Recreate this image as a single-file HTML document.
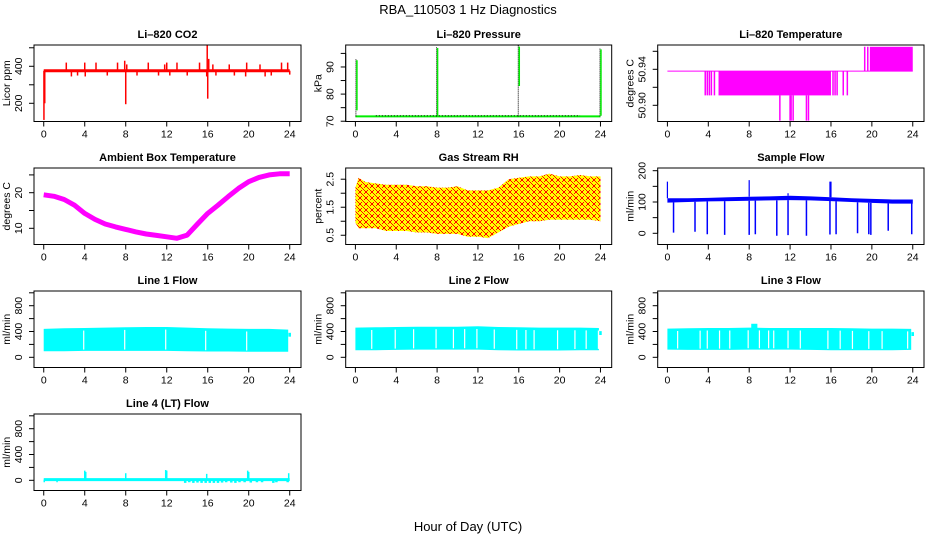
<!DOCTYPE html>
<html><head><meta charset="utf-8"><style>
html,body{margin:0;padding:0;background:#fff;}
svg{display:block;font-family:"Liberation Sans",Helvetica,Arial,sans-serif;}
</style></head><body>
<svg id="chart" width="936" height="540" viewBox="0 0 936 540" xmlns="http://www.w3.org/2000/svg">
<defs>
<pattern id="rhpat" width="6" height="6" patternUnits="userSpaceOnUse">
<rect width="6" height="6" fill="#ffff00"/>
<rect x="0" y="0" width="1" height="1" fill="#ff0000"/>
<rect x="1" y="1" width="1" height="1" fill="#ff0000"/>
<rect x="2" y="2" width="1" height="1" fill="#ff0000"/>
<rect x="3" y="3" width="1" height="1" fill="#ff0000"/>
<rect x="4" y="4" width="1" height="1" fill="#ff0000"/>
<rect x="5" y="5" width="1" height="1" fill="#ff0000"/>
<rect x="5" y="0" width="1" height="1" fill="#ff0000"/>
<rect x="4" y="1" width="1" height="1" fill="#ff0000"/>
<rect x="1" y="4" width="1" height="1" fill="#ff0000"/>
<rect x="0" y="5" width="1" height="1" fill="#ff0000"/>
</pattern>
</defs>
<text x="468" y="14" font-size="13" text-anchor="middle">RBA_110503  1 Hz Diagnostics</text>
<text x="468" y="531" font-size="13" text-anchor="middle">Hour of Day (UTC)</text>
</svg>
<script>
// ---- data arrays ----
const xTicks = [0,4,8,12,16,20,24];
// CO2
const co2Base = 376;
const co2SpikeHours = [0.02,0.1,2.2,2.7,3.3,4.0,4.05,5.1,6.2,7.2,7.9,8.0,8.1,9.1,10.2,11.2,11.8,12.0,12.3,13.0,14.0,15.2,15.9,15.95,16.0,16.1,16.5,16.8,18.1,18.6,19.7,19.8,21.1,21.6,22.2,23.2,23.8,24.0];
const co2SpikeVals  = [110,200,420,345,350,420,345,420,350,420,430,195,410,350,420,350,410,420,350,420,350,420,345,515,225,440,410,350,410,350,345,420,410,345,350,420,420,355];
// Pressure
const presBase = 71.8;
const presSpikeHours = [0.05,7.95,15.95,23.95];
const presSpikeMax = [93,97.5,98,97];
const presSpikeGreenMin = [74,72,83,72];
// Li-820 temperature (quantized levels)
const ltBase = 50.938;
const ltBlockStart = [5.0,19.8];
const ltBlockEnd = [16.0,24.0];
const ltBlockLow = [50.911,50.938];
const ltBlockHigh = [50.938,50.965];
const ltSpikeHours = [3.7,3.9,4.1,4.3,4.6,16.2,16.4,16.6,17.2,17.6,19.3,19.6,11.0,12.0,12.1,12.3,13.6,13.8];
const ltSpikeVals  = [50.911,50.911,50.911,50.911,50.911,50.911,50.911,50.911,50.911,50.911,50.965,50.965,50.883,50.883,50.883,50.883,50.883,50.883];
// Ambient box temperature, hourly
const ambHours = [0,1,2,3,4,5,6,7,8,9,10,11,12,13,14,15,16,17,18,19,20,21,22,23,24];
const ambVals  = [19.4,19.0,18.1,16.5,14.2,12.5,11.2,10.4,9.7,9.0,8.4,8.0,7.6,7.2,8.1,11.2,14.2,16.5,18.9,21.2,23.1,24.3,25.0,25.3,25.3];
// Gas stream RH envelope
const rhHours = [0,0.3,1,2,3,4,5,6,7,8,9,10,11,12,13,14,15,16,17,18,19,20,21,22,23,24];
const rhUpper = [2.2,2.55,2.4,2.35,2.3,2.3,2.3,2.25,2.25,2.2,2.2,2.25,2.1,2.1,2.1,2.2,2.5,2.55,2.6,2.6,2.7,2.6,2.6,2.65,2.6,2.6];
const rhLower = [0.95,0.75,0.75,0.75,0.65,0.65,0.65,0.6,0.6,0.55,0.55,0.55,0.45,0.45,0.4,0.6,0.8,0.9,1.0,1.0,1.05,1.05,1.05,1.05,1.05,1.0];
// Sample flow
const sfHours = [0,2,4,6,8,10,12,14,16,18,20,22,24];
const sfUpper = [112,112,113,115,117,118,120,118,115,112,110,108,108];
const sfLower = [98,100,102,103,104,105,106,105,103,100,97,95,95];
const sfDropHours = [0.6,2.7,3.9,5.6,8.0,8.6,10.7,11.8,13.6,15.9,16.5,18.6,19.7,19.9,21.6,23.9];
const sfDropVals  = [2,5,-3,-5,-5,-3,-8,-6,-8,-4,-3,0,-3,-5,8,-3];
const sfSpikeHours = [0.0,8.0,11.8,15.9,16.0];
const sfSpikeVals  = [165,170,128,165,165];
// Line flows
const flowHours = [0,2,4,6,8,10,12,14,16,18,20,22,24];
const l1Upper = [440,450,455,460,465,470,470,460,450,445,440,440,430];
const l1Lower = [95,95,100,100,100,100,100,95,90,90,85,85,85];
const l1Gaps = [3.9,7.9,11.9,15.8,19.8];
const l2Upper = [460,465,470,475,475,475,480,470,465,460,460,460,455];
const l2Lower = [110,110,115,120,120,120,120,110,105,105,105,110,110];
const l2Gaps = [1.6,3.9,5.7,7.9,9.6,10.7,11.9,13.6,15.8,16.7,17.5,19.8,21.5,22.6,23.8];
const l3Upper = [445,450,455,455,460,455,455,455,455,450,445,445,440];
const l3Lower = [120,115,115,115,120,120,120,115,110,110,110,110,115];
const l3Gaps = [1.0,3.2,3.9,5.1,6.1,7.9,9.0,9.9,10.4,11.8,13.0,15.7,16.9,18.1,19.7,21.0,23.5];
const l3BumpStart = 8.2, l3BumpEnd = 8.8, l3BumpVal = 520;
// Line 4
const l4Base = 10;
const l4SpikeHours = [0.05,1.3,4.0,4.1,8.0,11.9,12.0,15.9,19.9,20.0,23.9];
const l4SpikeVals  = [-30,-30,150,130,110,160,150,100,150,130,110];
const l4DipHours = [13.8,14.2,14.6,15.0,15.4,15.8,16.2,16.6,17.0,17.4,17.8,18.3,18.7,19.1,19.6,20.2,20.8,21.3,22.4,22.7,23.8];
const l4DipVals  = [-40,-30,-40,-35,-40,-40,-40,-40,-40,-35,-30,-35,-40,-30,-30,-35,-30,-30,-40,-30,-30];

// ---- layout ----
const colL = [34,345.7,657.7], colR = [301,611.7,924];
const rowT = [45,168,291,414], PH = 76.5;
const XD0 = -0.95, XD1 = 25.1;
const svg = document.getElementById('chart');
const NS = 'http://www.w3.org/2000/svg';

function mk(tag, attrs, name, parent){
  const el = document.createElementNS(NS, tag);
  for (const k in attrs) el.setAttribute(k, attrs[k]);
  
  
  (parent || svg).appendChild(el);
  return el;
}

function panel(c, r, y0, y1, yt, ylabels, title, ylab, name){
  const L = colL[c], R = colR[c], T = rowT[r], B = T + PH;
  const g = mk('g', {}, name + '-panel');
  const xs = h => L + (h - XD0) / (XD1 - XD0) * (R - L);
  const ys = v => B - (v - y0) / (y1 - y0) * (B - T);
  const clip = document.createElementNS(NS, 'clipPath');
  clip.setAttribute('id', 'clip-' + name);
  const cr = document.createElementNS(NS, 'rect');
  cr.setAttribute('x', L); cr.setAttribute('y', T); cr.setAttribute('width', R - L); cr.setAttribute('height', B - T);
  clip.appendChild(cr); svg.appendChild(clip);
  const plot = mk('g', {'clip-path': 'url(#clip-' + name + ')'}, name + '-plot-area', g);
  mk('text', {x: (L + R) / 2, y: T - 7, 'font-size': 11, 'font-weight': 'bold', 'text-anchor': 'middle'}, name + '-title', g).textContent = title;
  mk('line', {x1: xs(xTicks[0]), x2: xs(xTicks[xTicks.length - 1]), y1: B, y2: B, stroke: '#000'}, name + '-x-axis-line', g);
  for (const t of xTicks){
    mk('line', {x1: xs(t), x2: xs(t), y1: B, y2: B + 5, stroke: '#000'}, name + '-x-tick', g);
    mk('text', {x: xs(t), y: B + 16, 'font-size': 10.5, 'text-anchor': 'middle'}, name + '-x-tick-label', g).textContent = t;
  }
  mk('line', {x1: L, x2: L, y1: ys(yt[0]), y2: ys(yt[yt.length - 1]), stroke: '#000'}, name + '-y-axis-line', g);
  for (const t of yt){
    mk('line', {x1: L - 5, x2: L, y1: ys(t), y2: ys(t), stroke: '#000'}, name + '-y-tick', g);
  }
  for (const t of ylabels){
    const lx = L - 12, ly = ys(t);
    mk('text', {x: lx, y: ly, 'font-size': 10.5, 'text-anchor': 'middle', transform: 'rotate(-90 ' + lx + ' ' + ly + ')'}, name + '-y-tick-label', g).textContent = t;
  }
  const tx = L - 24, ty = (T + B) / 2;
  mk('text', {x: tx, y: ty, 'font-size': 10.5, 'text-anchor': 'middle', transform: 'rotate(-90 ' + tx + ' ' + ty + ')'}, name + '-y-axis-title', g).textContent = ylab;
  mk('rect', {x: L, y: T, width: R - L, height: B - T, fill: 'none', stroke: '#000'}, name + '-frame', g);
  return {xs, ys, plot};
}
function pts(hs, vs, xs, ys){ return hs.map((h, i) => xs(h).toFixed(1) + ',' + ys(vs[i]).toFixed(1)).join(' '); }
function band(p, hs, up, lo, fill, name){
  const s = pts(hs, up, p.xs, p.ys) + ' ' + pts(hs.slice().reverse(), lo.slice().reverse(), p.xs, p.ys);
  mk('polygon', {points: s, fill: fill}, name, p.plot);
}
function interp(hs, vs, h){
  for (let i = 0; i < hs.length - 1; i++) if (h <= hs[i + 1]) return vs[i] + (vs[i + 1] - vs[i]) * (h - hs[i]) / (hs[i + 1] - hs[i]);
  return vs[vs.length - 1];
}

// CO2
let p = panel(0, 0, 101.6, 515, [200,300,400,500], [200,400], 'Li\u2013820 CO2', 'Licor ppm', 'co2');
mk('line', {x1: p.xs(0), x2: p.xs(24), y1: p.ys(co2Base), y2: p.ys(co2Base), stroke: '#ff0000', 'stroke-width': 3}, 'co2-series-line', p.plot);
co2SpikeHours.forEach((h, i) => {
  mk('line', {x1: p.xs(h), x2: p.xs(h), y1: p.ys(co2Base), y2: p.ys(co2SpikeVals[i]), stroke: '#ff0000', 'stroke-width': 1.5}, 'co2-spike', p.plot);
});

// Pressure
p = panel(1, 0, 69.9, 98.1, [70,75,80,85,90,95], [70,80,90], 'Li\u2013820 Pressure', 'kPa', 'pressure');
mk('line', {x1: p.xs(0), x2: p.xs(24), y1: p.ys(presBase), y2: p.ys(presBase), stroke: '#00ee00', 'stroke-width': 2}, 'pressure-series-line', p.plot);
mk('line', {x1: p.xs(2), x2: p.xs(22), y1: p.ys(presBase + 0.2), y2: p.ys(presBase + 0.2), stroke: '#000', 'stroke-width': 1, 'stroke-dasharray': '1,2'}, 'pressure-dotted-line', p.plot);
presSpikeHours.forEach((h, i) => {
  mk('line', {x1: p.xs(h), x2: p.xs(h), y1: p.ys(presBase), y2: p.ys(presSpikeMax[i]), stroke: '#000', 'stroke-width': 1, 'stroke-dasharray': '1,1'}, 'pressure-spike-dotted', p.plot);
  mk('line', {x1: p.xs(h) + 1, x2: p.xs(h) + 1, y1: p.ys(presSpikeGreenMin[i]), y2: p.ys(presSpikeMax[i] - 0.5), stroke: '#00ee00', 'stroke-width': 1.5}, 'pressure-spike', p.plot);
});

// Li-820 temperature
p = panel(2, 0, 50.882, 50.967, [50.90,50.92,50.94,50.96], ['50.90','50.94'], 'Li\u2013820 Temperature', 'degrees C', 'li820-temp');
mk('line', {x1: p.xs(0), x2: p.xs(24), y1: p.ys(ltBase), y2: p.ys(ltBase), stroke: '#ff00ff', 'stroke-width': 1}, 'li820-temp-series-line', p.plot);
ltBlockStart.forEach((s, i) => {
  mk('rect', {x: p.xs(s), y: p.ys(ltBlockHigh[i]), width: p.xs(ltBlockEnd[i]) - p.xs(s), height: p.ys(ltBlockLow[i]) - p.ys(ltBlockHigh[i]), fill: '#ff00ff'}, 'li820-temp-block', p.plot);
});
ltSpikeHours.forEach((h, i) => {
  const from = ltSpikeVals[i] > ltBase ? ltBase : (ltSpikeVals[i] < 50.9 ? 50.911 : ltBase);
  mk('line', {x1: p.xs(h), x2: p.xs(h), y1: p.ys(from), y2: p.ys(ltSpikeVals[i]), stroke: '#ff00ff', 'stroke-width': 1.5}, 'li820-temp-spike', p.plot);
});

// Ambient box temperature
p = panel(0, 1, 5.45, 26.94, [10,15,20,25], [10,20], 'Ambient Box Temperature', 'degrees C', 'ambient-temp');
mk('polyline', {points: pts(ambHours, ambVals, p.xs, p.ys), fill: 'none', stroke: '#ff00ff', 'stroke-width': 5, 'stroke-linejoin': 'round'}, 'ambient-temp-series-line', p.plot);

// Gas stream RH
p = panel(1, 1, 0.17, 2.9, [0.5,1,1.5,2,2.5], ['0.5','1.5','2.5'], 'Gas Stream RH', 'percent', 'rh');
band(p, rhHours, rhUpper, rhLower, 'url(#rhpat)', 'rh-series-band');

// Sample flow
p = panel(2, 1, -35.8, 208.6, [0,50,100,150,200], [0,100,200], 'Sample Flow', 'ml/min', 'sample-flow');
band(p, sfHours, sfUpper, sfLower, '#0000ff', 'sample-flow-band');
sfDropHours.forEach((h, i) => {
  const b = interp(sfHours, sfLower, h);
  mk('line', {x1: p.xs(h), x2: p.xs(h), y1: p.ys(b), y2: p.ys(sfDropVals[i]), stroke: '#0000ff', 'stroke-width': 1.5}, 'sample-flow-drop', p.plot);
});
sfSpikeHours.forEach((h, i) => {
  const b = interp(sfHours, sfUpper, h);
  mk('line', {x1: p.xs(h), x2: p.xs(h), y1: p.ys(b), y2: p.ys(sfSpikeVals[i]), stroke: '#0000ff', 'stroke-width': 1.2}, 'sample-flow-spike', p.plot);
});

// Line flows
const flowTicks = [0,200,400,600,800,1000], flowLabels = [0,400,800];
function flowPanel(c, r, up, lo, gaps, title, name){
  const q = panel(c, r, -158, 1028, flowTicks, flowLabels, title, 'ml/min', name);
  band(q, flowHours.slice(0, -1).concat([23.85]), up, lo, '#00ffff', name + '-band');
  gaps.forEach(h => {
    mk('line', {x1: q.xs(h), x2: q.xs(h), y1: q.ys(interp(flowHours, up, h) - 40), y2: q.ys(interp(flowHours, lo, h) + 20), stroke: '#fff', 'stroke-width': 1.2}, name + '-gap', q.plot);
  });
  mk('line', {x1: q.xs(24), x2: q.xs(24), y1: q.ys(interp(flowHours, up, 24) - 50), y2: q.ys(interp(flowHours, up, 24) - 110), stroke: '#00ffff', 'stroke-width': 2.5}, name + '-end-segment', q.plot);
  return q;
}
flowPanel(0, 2, l1Upper, l1Lower, l1Gaps, 'Line 1 Flow', 'line1-flow');
flowPanel(1, 2, l2Upper, l2Lower, l2Gaps, 'Line 2 Flow', 'line2-flow');
p = flowPanel(2, 2, l3Upper, l3Lower, l3Gaps, 'Line 3 Flow', 'line3-flow');
mk('rect', {x: p.xs(l3BumpStart), y: p.ys(l3BumpVal), width: p.xs(l3BumpEnd) - p.xs(l3BumpStart), height: p.ys(400) - p.ys(l3BumpVal), fill: '#00ffff'}, 'line3-flow-bump', p.plot);

// Line 4
p = panel(0, 3, -158, 1028, flowTicks, flowLabels, 'Line 4 (LT) Flow', 'ml/min', 'line4-flow');
l4DipHours.forEach((h, i) => {
  mk('line', {x1: p.xs(h), x2: p.xs(h), y1: p.ys(l4Base), y2: p.ys(l4DipVals[i]), stroke: '#00ffff', 'stroke-width': 2.5}, 'line4-flow-dip', p.plot);
});
mk('line', {x1: p.xs(0), x2: p.xs(24), y1: p.ys(l4Base), y2: p.ys(l4Base), stroke: '#00ffff', 'stroke-width': 3}, 'line4-flow-series-line', p.plot);
l4SpikeHours.forEach((h, i) => {
  mk('line', {x1: p.xs(h), x2: p.xs(h), y1: p.ys(l4Base), y2: p.ys(l4SpikeVals[i]), stroke: '#00ffff', 'stroke-width': 1.5}, 'line4-flow-spike', p.plot);
});
</script>
</body></html>
